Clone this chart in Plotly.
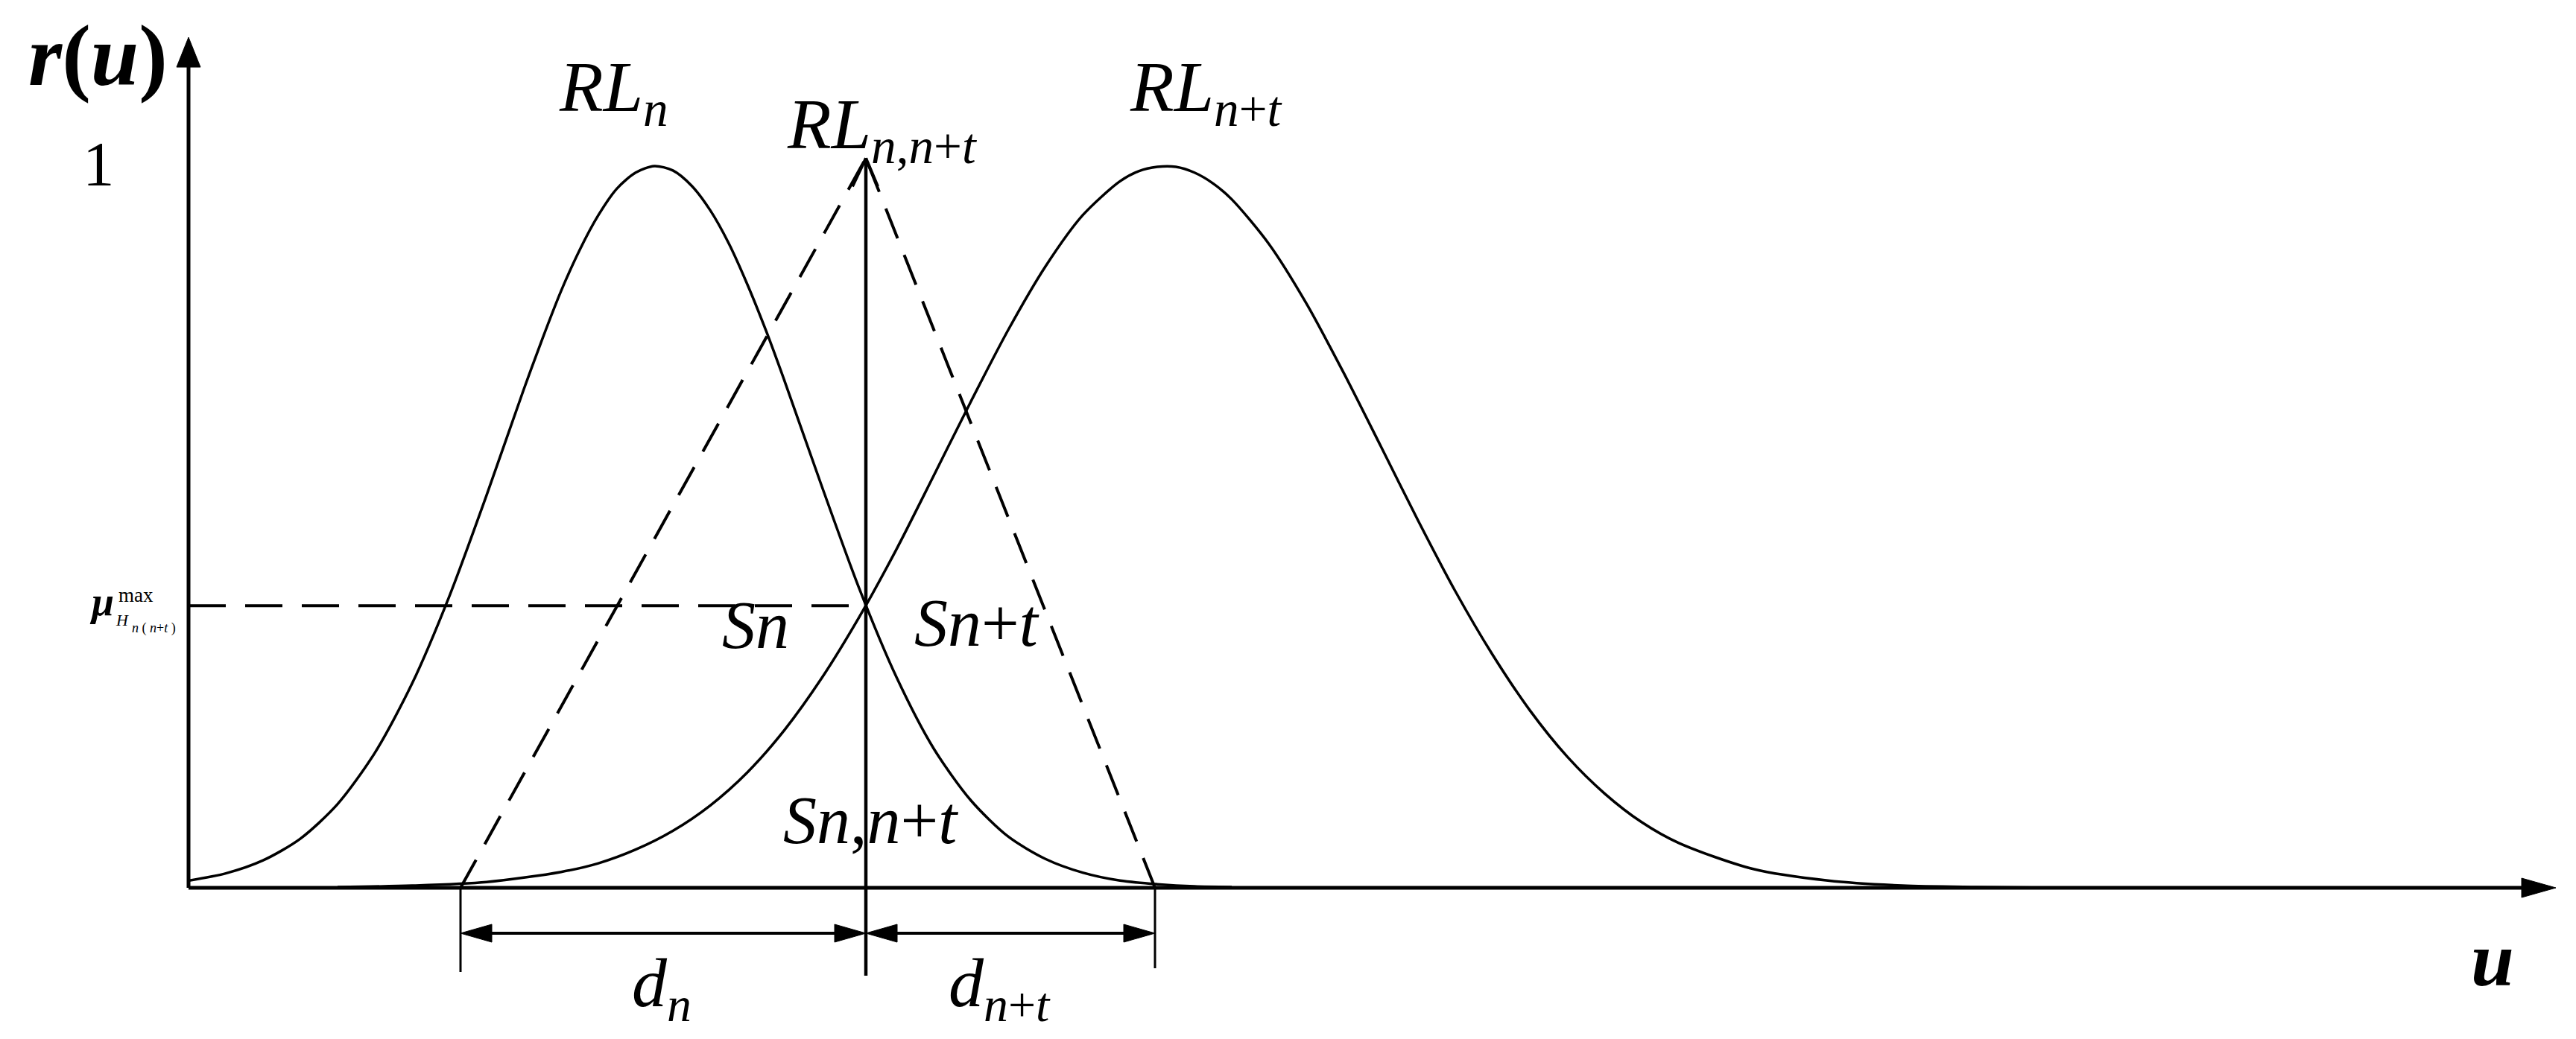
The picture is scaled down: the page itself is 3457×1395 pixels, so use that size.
import plotly.graph_objects as go

# ---------------- data ----------------
# membership curve RL_n
u_rl_n = [0, 0.5, 1, 1.5, 2, 2.5, 3, 3.5, 4, 4.5, 4.75, 5, 5.25, 5.5, 5.75, 6, 6.25,
          6.5, 6.75, 7, 7.25, 7.5, 7.75, 8, 8.5, 9, 9.5, 10, 10.5, 11, 11.5, 12,
          12.5, 13, 13.5, 14]
r_rl_n = [0.010, 0.020, 0.038, 0.068, 0.116, 0.187, 0.283, 0.404, 0.544, 0.691,
          0.761, 0.827, 0.884, 0.932, 0.969, 0.991, 1.000, 0.994, 0.973, 0.939,
          0.893, 0.836, 0.772, 0.702, 0.556, 0.415, 0.292, 0.193, 0.121, 0.071,
          0.040, 0.021, 0.010, 0.005, 0.002, 0.001]

# membership curve RL_{n+t}
u_rl_nt = [2, 3, 4, 5, 5.5, 6, 6.5, 7, 7.5, 8, 8.5, 9, 9.5, 10, 10.5, 11, 11.5, 12,
           12.5, 12.75, 13, 13.25, 13.5, 13.75, 14, 14.5, 15, 15.5, 16, 16.5, 17,
           17.5, 18, 18.5, 19, 19.5, 20, 21, 22, 23, 24, 25]
r_rl_nt = [0.001, 0.003, 0.008, 0.022, 0.034, 0.053, 0.079, 0.114, 0.160, 0.219,
           0.291, 0.375, 0.469, 0.571, 0.674, 0.773, 0.861, 0.932, 0.979, 0.993,
           0.999, 0.999, 0.991, 0.976, 0.954, 0.892, 0.810, 0.714, 0.612, 0.509,
           0.411, 0.323, 0.246, 0.182, 0.131, 0.091, 0.062, 0.026, 0.010, 0.003,
           0.001, 0.000]

mu_max = 0.391          # height of the crossing point S
u_cross = 9.09          # u of the crossing point
r_apex = 1.011          # apex of the dashed triangle RL_{n,n+t}
u_tri_left = 3.65       # left foot of the triangle (start of d_n)
u_tri_right = 12.97     # right foot of the triangle (end of d_{n+t})
u_axis_end = 31.77      # tip of the u axis
r_axis_end = 1.1785     # tip of the r(u) axis

# ---------------- styling / layout constants ----------------
FONT = "Liberation Serif, Times New Roman, serif"
BLACK = "#000000"
X_RANGE = [-2.53, 32.04]
Y_RANGE = [-0.2095, 1.2302]
PX_X = 100.0   # pixels per u unit
PX_Y = 969.0   # pixels per r unit

fig = go.Figure()

# curves
fig.add_trace(go.Scatter(x=u_rl_n, y=r_rl_n, mode="lines",
                         line=dict(color=BLACK, width=3.5, shape="spline", smoothing=0.8),
                         hoverinfo="skip"))
fig.add_trace(go.Scatter(x=u_rl_nt, y=r_rl_nt, mode="lines",
                         line=dict(color=BLACK, width=3.5, shape="spline", smoothing=0.8),
                         hoverinfo="skip"))

# dashed triangle RL_{n,n+t}
fig.add_trace(go.Scatter(x=[u_tri_left, u_cross], y=[0, r_apex], mode="lines",
                         line=dict(color=BLACK, width=4, dash="43px,24px"),
                         hoverinfo="skip"))
fig.add_trace(go.Scatter(x=[u_tri_right, u_cross], y=[0, r_apex], mode="lines",
                         line=dict(color=BLACK, width=4, dash="43px,24px"),
                         hoverinfo="skip"))

# dashed horizontal at mu_max
fig.add_trace(go.Scatter(x=[0, u_cross], y=[mu_max, mu_max], mode="lines",
                         line=dict(color=BLACK, width=4, dash="50px,26px"),
                         hoverinfo="skip"))

shapes = []


def seg(x0, y0, x1, y1, w):
    shapes.append(dict(type="line", xref="x", yref="y", x0=x0, y0=y0, x1=x1, y1=y1,
                       line=dict(color=BLACK, width=w), layer="above"))


def tri(tip_x, tip_y, direction, length_px, half_px):
    if direction in ("left", "right"):
        s = -1 if direction == "right" else 1
        bx = tip_x + s * length_px / PX_X
        h = half_px / PX_Y
        path = f"M {tip_x},{tip_y} L {bx},{tip_y + h} L {bx},{tip_y - h} Z"
    else:
        by = tip_y - length_px / PX_Y
        h = half_px / PX_X
        path = f"M {tip_x},{tip_y} L {tip_x + h},{by} L {tip_x - h},{by} Z"
    shapes.append(dict(type="path", xref="x", yref="y", path=path,
                       fillcolor=BLACK, line=dict(color=BLACK, width=1), layer="above"))


# axes
seg(0, 0, 0, r_axis_end - 38 / PX_Y, 5)
tri(0, r_axis_end, "up", 40, 16)
seg(0, 0, u_axis_end - 44 / PX_X, 0, 5)
tri(u_axis_end, 0, "right", 46, 13)

# central vertical line with open arrow head
y_dim = -61 / PX_Y
seg(u_cross, -118 / PX_Y, u_cross, r_apex, 4.5)
seg(u_cross, r_apex, u_cross - 0.18, r_apex - 38 / PX_Y, 4)
seg(u_cross, r_apex, u_cross + 0.16, r_apex - 38 / PX_Y, 4)

# extension lines of the dimension arrows
seg(u_tri_left, 0, u_tri_left, -113 / PX_Y, 3)
seg(u_tri_right, 0, u_tri_right, -108 / PX_Y, 3)

# dimension arrows d_n and d_{n+t}
seg(u_tri_left + 0.3, y_dim, u_cross - 0.3, y_dim, 4)
tri(u_tri_left, y_dim, "left", 42, 12)
tri(u_cross, y_dim, "right", 42, 12)
seg(u_cross + 0.3, y_dim, u_tri_right - 0.3, y_dim, 4)
tri(u_cross, y_dim, "left", 42, 12)
tri(u_tri_right, y_dim, "right", 42, 12)

annotations = []


def label(text, x, y, size, xanchor="left", yanchor="middle"):
    annotations.append(dict(text=text, x=x, y=y, xref="x", yref="y",
                            xanchor=xanchor, yanchor=yanchor, showarrow=False,
                            font=dict(family=FONT, size=size, color=BLACK)))


label("<b><i>r</i>(<i>u</i>)</b>", -1.22, 1.1527, 116, xanchor="center")
label("1", -1.21, 1.003, 85, xanchor="center")
label("<i>RL</i><sub><i>n</i></sub>", 4.95, 1.1030, 96)
label("<i>RL</i><sub><i>n</i>,<i>n</i>+<i>t</i></sub>", 8.01, 1.0514, 96)
label("<i>RL</i><sub><i>n</i>+<i>t</i></sub>", 12.61, 1.1030, 96)
label("<i>Sn</i>", 7.14, 0.3643, 90)
label("<i>Sn</i>+<i>t</i>", 9.72, 0.3674, 90)
label("<i>Sn</i>,<i>n</i>+<i>t</i>", 7.96, 0.0939, 90)
label("<i>d</i><sub><i>n</i></sub>", 5.93, -0.1383, 94)
label("<i>d</i><sub><i>n</i>+<i>t</i></sub>", 10.18, -0.1383, 94)
label("<b><i>u</i></b>", 30.92, -0.099, 104, xanchor="center")
label("<b><i>μ</i></b>", -1.35, 0.396, 54)
label("max", -0.96, 0.4056, 27)
label("<i>H</i>", -1.00, 0.3715, 22)
label("<i>n</i> ( <i>n</i>+<i>t</i> )", -0.78, 0.360, 18)

fig.update_layout(
    width=3457, height=1395, autosize=False,
    margin=dict(l=0, r=0, t=0, b=0, pad=0),
    paper_bgcolor="white", plot_bgcolor="white",
    showlegend=False,
    xaxis=dict(range=X_RANGE, visible=False, fixedrange=True),
    yaxis=dict(range=Y_RANGE, visible=False, fixedrange=True),
    shapes=shapes, annotations=annotations,
)

fig.write_html("out.html", config={"displayModeBar": False},
               post_script="document.body.style.margin='0';document.body.style.overflow='hidden';")
